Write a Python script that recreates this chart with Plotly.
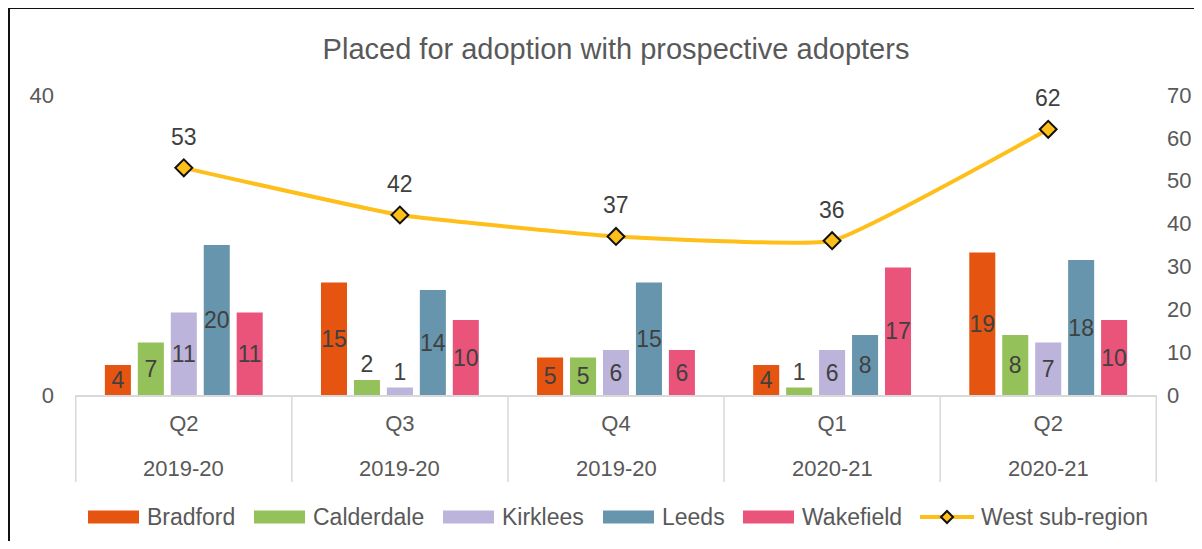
import plotly.graph_objects as go

quarters = ["Q2", "Q3", "Q4", "Q1", "Q2"]
years = ["2019-20", "2019-20", "2019-20", "2020-21", "2020-21"]
categories = [f"{q} {y}" for q, y in zip(quarters, years)]

bradford = [4, 15, 5, 4, 19]
calderdale = [7, 2, 5, 1, 8]
kirklees = [11, 1, 6, 6, 7]
leeds = [20, 14, 15, 8, 18]
wakefield = [11, 10, 6, 17, 10]
west = [53, 42, 37, 36, 62]

bar_series = [
    ("Bradford", bradford, "#E65412"),
    ("Calderdale", calderdale, "#95C15B"),
    ("Kirklees", kirklees, "#BCB4DA"),
    ("Leeds", leeds, "#6795AD"),
    ("Wakefield", wakefield, "#EA547A"),
]
line_name = "West sub-region"
line_color = "#FFBF1A"

# page offset (browser body margin); keep the page free of scrollbars
OFF = 8
W, H = 1202 - 2 * OFF, 549 - 2 * OFF
# plot area in page pixels
L, R, T, B = 75, 1157, 95, 395
PW, PH = R - L, B - T


def py2p(py):
    return (B - py) / PH


def px2p(px):
    return (px - L) / PW


TXT = "#595959"
LBL = "#404040"
FONT = "Liberation Sans, Arial, sans-serif"

fig = go.Figure()
for name, vals, col in bar_series:
    fig.add_trace(go.Bar(
        name=name, x=categories, y=vals,
        marker=dict(color=col, line=dict(width=0)),
        text=[str(v) for v in vals],
        textposition=["outside" if v <= 2 else "inside" for v in vals],
        insidetextanchor="middle",
        constraintext="none",
        textangle=0,
        textfont=dict(family=FONT, size=23, color=LBL),
        cliponaxis=False,
        showlegend=False,
        yaxis="y",
    ))

fig.add_trace(go.Scatter(
    name=line_name, x=categories, y=west,
    mode="lines+markers",
    line=dict(color=line_color, width=4, shape="spline", smoothing=0.35),
    marker=dict(symbol="diamond", size=13, color=line_color,
                line=dict(color="#111111", width=2)),
    cliponaxis=False,
    showlegend=False,
    yaxis="y2",
))

shapes = []
annotations = []

# line data labels
for c, v in zip(categories, west):
    annotations.append(dict(x=c, y=v, xref="x", yref="y2", text=str(v),
                            showarrow=False, yshift=31,
                            font=dict(family=FONT, size=23, color=LBL),
                            xanchor="center", yanchor="middle"))

# category dividers
for i in range(len(categories) + 1):
    shapes.append(dict(type="line", xref="x", yref="paper",
                       x0=i - 0.5, x1=i - 0.5,
                       y0=0, y1=py2p(482),
                       line=dict(color="#D9D9D9", width=1.5)))

# year row of category labels
for c, y in zip(categories, years):
    annotations.append(dict(x=c, y=py2p(468), xref="x", yref="paper",
                            text=y, showarrow=False,
                            font=dict(family=FONT, size=22, color=TXT),
                            xanchor="center", yanchor="middle"))

# custom legend (wide swatches like the original)
leg_y = 517
leg_x = [88, 254, 443, 603, 743]
for (name, vals, col), x0 in zip(bar_series, leg_x):
    shapes.append(dict(type="rect", xref="paper", yref="paper",
                       x0=px2p(x0), x1=px2p(x0 + 51),
                       y0=py2p(leg_y + 6.5), y1=py2p(leg_y - 6.5),
                       fillcolor=col, line=dict(width=0)))
    annotations.append(dict(x=px2p(x0 + 57), y=py2p(leg_y), xref="paper", yref="paper",
                            text=name, showarrow=False,
                            font=dict(family=FONT, size=23, color=TXT),
                            xanchor="left", yanchor="middle"))
lx0 = 920
shapes.append(dict(type="line", xref="paper", yref="paper",
                   x0=px2p(lx0), x1=px2p(lx0 + 54),
                   y0=py2p(leg_y), y1=py2p(leg_y),
                   line=dict(color=line_color, width=4)))
shapes.append(dict(type="path", xref="paper", yref="paper",
                   path=("M {a},{m} L {b},{t} L {c},{m} L {b},{bt} Z".format(
                       a=px2p(lx0 + 21), b=px2p(lx0 + 27), c=px2p(lx0 + 33),
                       m=py2p(leg_y), t=py2p(leg_y - 6), bt=py2p(leg_y + 6))),
                   fillcolor=line_color, line=dict(color="#111111", width=2)))
annotations.append(dict(x=px2p(lx0 + 59), y=py2p(leg_y), xref="paper", yref="paper",
                        text=line_name, showarrow=False,
                        font=dict(family=FONT, size=23, color=TXT),
                        xanchor="left", yanchor="middle"))

# outer frame: only the top and left edges are visible in the original
shapes.append(dict(type="line", xref="paper", yref="paper",
                   x0=px2p(9), x1=px2p(1202), y0=py2p(8), y1=py2p(8),
                   line=dict(color="#111111", width=2), layer="above"))
shapes.append(dict(type="line", xref="paper", yref="paper",
                   x0=px2p(9), x1=px2p(9), y0=py2p(8), y1=py2p(549),
                   line=dict(color="#111111", width=2), layer="above"))

fig.update_layout(
    width=W, height=H,
    margin=dict(l=L - OFF, r=(W + OFF) - R, t=T - OFF, b=(H + OFF) - B, pad=0,
                autoexpand=False),
    paper_bgcolor="white", plot_bgcolor="white",
    title=dict(text="Placed for adoption with prospective adopters",
               x=0.5, xanchor="center", xref="paper",
               y=1 - (49 - OFF) / H, yanchor="middle", yref="container",
               font=dict(family=FONT, size=29, color=TXT)),
    barmode="group", bargap=0.2375, bargroupgap=0.21,
    font=dict(family=FONT, color=TXT),
    showlegend=False,
    xaxis=dict(type="category", tickvals=categories, ticktext=quarters,
               showgrid=False, zeroline=False, showline=True,
               linecolor="#D9D9D9", linewidth=1.5, ticks="",
               ticklabelstandoff=8, automargin=False,
               tickfont=dict(family=FONT, size=22, color=TXT)),
    yaxis=dict(range=[0, 40], tickvals=[0, 40], showgrid=True,
               gridcolor="#D9D9D9", gridwidth=1.5, zeroline=False,
               showline=False, ticks="", ticklabelstandoff=20, automargin=False,
               tickfont=dict(family=FONT, size=22, color=TXT)),
    yaxis2=dict(range=[0, 70], tickvals=list(range(0, 71, 10)),
                overlaying="y", side="right", showgrid=False,
                zeroline=False, showline=False, ticks="",
                ticklabelstandoff=9, automargin=False,
                tickfont=dict(family=FONT, size=22, color=TXT)),
    shapes=shapes,
    annotations=annotations,
)

fig.write_html("out.html")
